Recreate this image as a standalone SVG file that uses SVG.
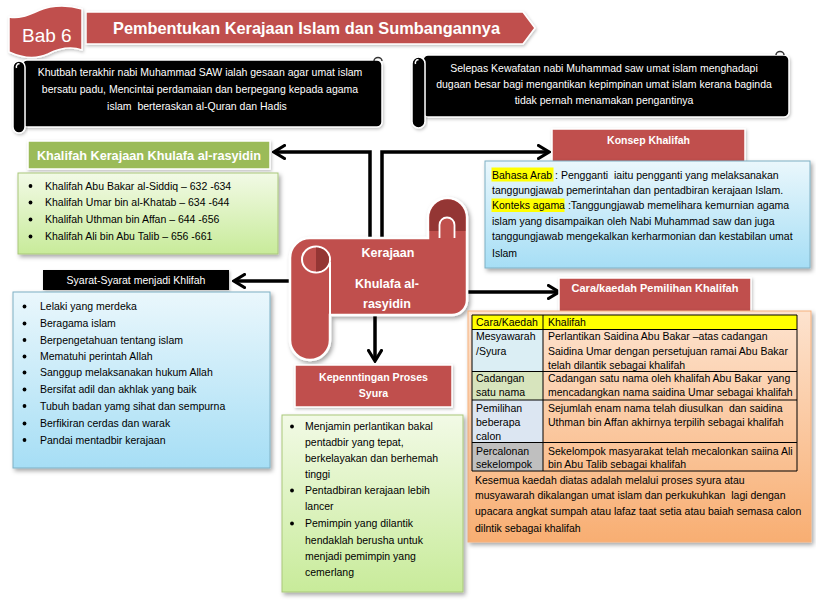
<svg xmlns="http://www.w3.org/2000/svg" width="816" height="602" viewBox="0 0 816 602">
<defs>
<style>
text{font-family:"Liberation Sans",Arial,sans-serif;font-size:10.5px;fill:#000}
.w{fill:#fff}
.b{font-weight:bold}
.m{text-anchor:middle}
.red{fill:#c0504d}
.dk{fill:#943634}
.conn{fill:none;stroke:#000;stroke-width:3.5;marker-end:url(#ah)}
.grid{stroke:#000;stroke-width:1;fill:none}
.blk{fill:#000;stroke:#fff;stroke-width:1.5}
</style>
<linearGradient id="gBlue" x1="0" y1="0" x2="0" y2="1"><stop offset="0" stop-color="#eaf7fc"/><stop offset="1" stop-color="#a6def5"/></linearGradient>
<linearGradient id="gGreen" x1="0" y1="0" x2="0" y2="1"><stop offset="0" stop-color="#f2fae6"/><stop offset="1" stop-color="#c8eb9a"/></linearGradient>
<linearGradient id="gOrange" x1="0" y1="0" x2="0" y2="1"><stop offset="0" stop-color="#fde3cf"/><stop offset="1" stop-color="#f8ae72"/></linearGradient>
<filter id="sh" x="-10%" y="-10%" width="130%" height="130%"><feDropShadow dx="2" dy="2.5" stdDeviation="2" flood-color="#000" flood-opacity="0.35"/></filter>
<filter id="sh2" x="-10%" y="-20%" width="130%" height="150%"><feDropShadow dx="1" dy="1.5" stdDeviation="1.5" flood-color="#000" flood-opacity="0.25"/></filter>
<marker id="ah" viewBox="0 0 14 16" refX="12" refY="8" markerWidth="14" markerHeight="16" markerUnits="userSpaceOnUse" orient="auto"><path d="M1.5,1.5 L12,8 L1.5,14.5" fill="none" stroke="#000" stroke-width="3.2" stroke-linecap="round"/></marker>
</defs>
<rect width="816" height="602" fill="#fff"/>

<g id="connectors">
<path class="conn" d="M370,240 L370,152 L274,152"/>
<path class="conn" d="M382,240 L382,152 L549,152"/>
<path class="conn" d="M292,281 L234,281"/>
<path class="conn" d="M465,292 L559,292"/>
<path class="conn" d="M375,313 L375,361"/>
</g>

<g id="title-banner">
<polygon points="86,12 523,12 535,28 523,44 86,44" class="red" stroke="#fff" stroke-width="1.5" filter="url(#sh2)"/>
<text x="113" y="34" class="w b" style="font-size:16.3px" textLength="387" lengthAdjust="spacingAndGlyphs">Pembentukan Kerajaan Islam dan Sumbangannya</text>
</g>

<g id="bab6-flag">
<path d="M9,17 C25,20 35,10 50,7 C62,5 72,6 82,9 L82,50 C70,46 60,48 48,54 C35,60 22,58 9,52 Z" class="red" stroke="#fff" stroke-width="1.5" filter="url(#sh2)"/>
<text x="22" y="42" class="w" style="font-size:19px">Bab 6</text>
</g>

<g id="khutbah-box">
<rect x="22" y="60" width="360" height="67" rx="5" class="blk" filter="url(#sh2)"/>
<rect x="13" y="61" width="12" height="72" rx="6" class="blk" filter="url(#sh2)"/>
<path d="M16.5,68 a2.5,3 0 0 1 3,-4" stroke="#fff" stroke-width="1.5" fill="none"/>
<path d="M374,61 a4,3.5 0 0 1 8,0" stroke="#333" stroke-width="1.5" fill="none"/>
<text x="200" y="76" class="w m">Khutbah terakhir nabi Muhammad SAW ialah gesaan agar umat islam</text>
<text x="200" y="93" class="w m">bersatu padu, Mencintai perdamaian dan berpegang kepada agama</text>
<text x="197" y="109.5" class="w m" xml:space="preserve">islam  berteraskan al-Quran dan Hadis</text>
</g>

<g id="kewafatan-box">
<rect x="423" y="55" width="366" height="62" rx="5" class="blk" filter="url(#sh2)"/>
<rect x="412" y="57" width="13" height="71" rx="6.5" class="blk" filter="url(#sh2)"/>
<path d="M415.5,64 a2.5,3 0 0 1 3,-4" stroke="#fff" stroke-width="1.5" fill="none"/>
<path d="M776,55 a4,3.5 0 0 1 8,0" stroke="#333" stroke-width="1.5" fill="none"/>
<text x="604" y="72" class="w m">Selepas Kewafatan nabi Muhammad saw umat islam menghadapi</text>
<text x="604" y="87.5" class="w m">dugaan besar bagi mengantikan kepimpinan umat islam kerana baginda</text>
<text x="604" y="103.5" class="w m">tidak pernah menamakan pengantinya</text>
</g>

<g id="khalifah-header">
<rect x="28" y="141" width="242" height="28" fill="#9bbb59" stroke="#fff" stroke-width="1.5" filter="url(#sh2)"/>
<text x="149" y="159.5" class="w b m" style="font-size:12.7px">Khalifah Kerajaan Khulafa al-rasyidin</text>
</g>

<g id="khalifah-list">
<rect x="18" y="173" width="260" height="81" fill="url(#gGreen)" stroke="#a9c77a" stroke-width="1" filter="url(#sh)"/>
<circle cx="30.5" cy="186" r="1.9"/><text x="45" y="189.5">Khalifah Abu Bakar al-Siddiq – 632 -634</text>
<circle cx="30.5" cy="202.5" r="1.9"/><text x="45" y="206">Khalifah Umar bin al-Khatab – 634 -644</text>
<circle cx="30.5" cy="219.5" r="1.9"/><text x="45" y="223">Khalifah Uthman bin Affan – 644 -656</text>
<circle cx="30.5" cy="236.5" r="1.9"/><text x="45" y="240">Khalifah Ali bin Abu Talib – 656 -661</text>
</g>

<g id="konsep-header">
<rect x="552" y="129" width="193" height="34" class="red" stroke="#fff" stroke-width="1.5" filter="url(#sh2)"/>
<text x="648.5" y="144" class="w b m">Konsep Khalifah</text>
</g>

<g id="konsep-box">
<rect x="485" y="161" width="325" height="107" fill="url(#gBlue)" stroke="#7fb0c4" stroke-width="1" filter="url(#sh)"/>
<rect x="491.5" y="167.5" width="62" height="14" fill="#ffff00"/>
<rect x="491.5" y="198.5" width="73" height="13.5" fill="#ffff00"/>
<text x="492" y="178.5" xml:space="preserve">Bahasa Arab : Pengganti  iaitu pengganti yang melaksanakan</text>
<text x="492" y="194">tanggungjawab pemerintahan dan pentadbiran kerajaan Islam.</text>
<text x="492" y="209">Konteks agama :Tanggungjawab memelihara kemurnian agama</text>
<text x="492" y="224.5">islam yang disampaikan oleh Nabi Muhammad saw dan juga</text>
<text x="492" y="240">tanggungjawab mengekalkan kerharmonian dan kestabilan umat</text>
<text x="492" y="256.5">Islam</text>
</g>

<g id="syarat-header">
<rect x="43" y="270" width="186" height="20" fill="#000" filter="url(#sh2)"/>
<text x="136" y="284" class="w m">Syarat-Syarat menjadi Khlifah</text>
</g>

<g id="syarat-list">
<rect x="13" y="292" width="257" height="176" fill="url(#gBlue)" stroke="#7fb0c4" stroke-width="1" filter="url(#sh)"/>
<circle cx="24.5" cy="306.5" r="1.9"/><text x="40" y="310">Lelaki yang merdeka</text>
<circle cx="24.5" cy="323.5" r="1.9"/><text x="40" y="327">Beragama islam</text>
<circle cx="24.5" cy="340" r="1.9"/><text x="40" y="343.5">Berpengetahuan tentang islam</text>
<circle cx="24.5" cy="356.5" r="1.9"/><text x="40" y="360">Mematuhi perintah Allah</text>
<circle cx="24.5" cy="372.5" r="1.9"/><text x="40" y="376">Sanggup melaksanakan hukum Allah</text>
<circle cx="24.5" cy="389.5" r="1.9"/><text x="40" y="393">Bersifat adil dan akhlak yang baik</text>
<circle cx="24.5" cy="406" r="1.9"/><text x="40" y="409.5">Tubuh badan yamg sihat dan sempurna</text>
<circle cx="24.5" cy="423.5" r="1.9"/><text x="40" y="427">Berfikiran cerdas dan warak</text>
<circle cx="24.5" cy="440" r="1.9"/><text x="40" y="443.5">Pandai mentadbir kerajaan</text>
</g>

<g id="kerajaan-scroll">
<path d="M290,258 A20,20 0 0 1 310,238 L428,238 L428,217.5 A19.5,19.5 0 0 1 467,217.5 L467,300 A15,15 0 0 1 452,315 L330,315 L330,340 A20,20 0 0 1 290,340 Z" class="red" stroke="#fff" stroke-width="2.5" filter="url(#sh)"/>
<path d="M429.5,217.5 A18,18 0 0 1 465.5,217.5 L465.5,231 L429.5,231 Z" class="dk"/>
<path d="M439.5,238 L439.5,225 A7.5,7.5 0 0 1 454.5,225 L454.5,238" class="red" stroke="#fff" stroke-width="1.8"/>
<path d="M330,262 L330,315" stroke="#fff" stroke-width="2" fill="none"/>
<ellipse cx="316" cy="259.5" rx="14" ry="13" class="red" stroke="#fff" stroke-width="2"/>
<path d="M316,247.5 A13,12 0 0 1 316,271.5 Z" class="dk"/>
<text x="388" y="257" class="w b m" style="font-size:12.5px">Kerajaan</text>
<text x="387" y="287.5" class="w b m" style="font-size:12.5px">Khulafa al-</text>
<text x="387" y="307.5" class="w b m" style="font-size:12.5px">rasyidin</text>
</g>

<g id="cara-header">
<rect x="559" y="278" width="192" height="36" class="red" stroke="#fff" stroke-width="1.5" filter="url(#sh2)"/>
<text x="655" y="292" class="w b m" style="font-size:11px">Cara/kaedah Pemilihan Khalifah</text>
</g>

<g id="cara-table">
<rect x="468" y="311" width="343" height="231" fill="url(#gOrange)" stroke="#f6b17e" stroke-width="1" filter="url(#sh)"/>
<rect x="472" y="315" width="325" height="14.5" fill="#ffff00"/>
<rect x="472" y="329.5" width="71" height="42" fill="#dbeef4"/>
<rect x="472" y="371.5" width="71" height="28.5" fill="#d7e4bd"/>
<rect x="472" y="400" width="71" height="42.5" fill="#dce6f2"/>
<rect x="472" y="442.5" width="71" height="28.5" fill="#bfbfbf"/>
<path class="grid" d="M472,315 H797 V471 H472 Z M543,315 V471 M472,329.5 H797 M472,371.5 H797 M472,400 H797 M472,442.5 H797"/>
<text x="476" y="326">Cara/Kaedah</text>
<text x="548" y="326">Khalifah</text>
<text x="476" y="340">Mesyawarah</text>
<text x="476" y="354.5">/Syura</text>
<text x="548" y="340">Perlantikan Saidina Abu Bakar –atas cadangan</text>
<text x="548" y="354.5">Saidina Umar dengan persetujuan ramai Abu Bakar</text>
<text x="548" y="368.5">telah dilantik sebagai khalifah</text>
<text x="476" y="382">Cadangan</text>
<text x="476" y="396">satu nama</text>
<text x="548" y="382" xml:space="preserve">Cadangan satu nama oleh khalifah Abu Bakar  yang</text>
<text x="548" y="396">mencadangkan nama saidina Umar sebagai khalifah</text>
<text x="476" y="412">Pemilihan</text>
<text x="476" y="426">beberapa</text>
<text x="476" y="440">calon</text>
<text x="548" y="412" xml:space="preserve">Sejumlah enam nama telah diusulkan  dan saidina</text>
<text x="548" y="426">Uthman bin Affan akhirnya terpilih sebagai khalifah</text>
<text x="476" y="454.5">Percalonan</text>
<text x="476" y="468">sekelompok</text>
<text x="548" y="454.5">Sekelompok masyarakat telah mecalonkan saiina Ali</text>
<text x="548" y="468">bin Abu Talib sebagai khalifah</text>
<text x="475" y="483.5">Kesemua kaedah diatas adalah melalui proses syura atau</text>
<text x="475" y="498.5" xml:space="preserve">musyawarah dikalangan umat islam dan perkukuhkan  lagi dengan</text>
<text x="475" y="514.5">upacara angkat sumpah atau lafaz taat setia atau baiah semasa calon</text>
<text x="475" y="531.5">dilntik sebagai khalifah</text>
</g>

<g id="kepentingan-header">
<rect x="295" y="365" width="157" height="42" class="red" stroke="#fff" stroke-width="1.5" filter="url(#sh2)"/>
<text x="373.5" y="380.5" class="w b m" style="font-size:10.6px">Kepenntingan Proses</text>
<text x="373.5" y="397" class="w b m" style="font-size:10.6px">Syura</text>
</g>

<g id="kepentingan-list">
<rect x="282" y="415" width="181" height="177" fill="url(#gGreen)" stroke="#a9c77a" stroke-width="1" filter="url(#sh)"/>
<circle cx="292" cy="426.5" r="1.9"/>
<text x="305" y="430">Menjamin perlantikan bakal</text>
<text x="305" y="446">pentadbir yang tepat,</text>
<text x="305" y="461.5">berkelayakan dan berhemah</text>
<text x="305" y="477.5">tinggi</text>
<circle cx="292" cy="490.5" r="1.9"/>
<text x="305" y="494">Pentadbiran kerajaan lebih</text>
<text x="305" y="510">lancer</text>
<circle cx="292" cy="523.5" r="1.9"/>
<text x="305" y="527">Pemimpin yang dilantik</text>
<text x="305" y="543.5">hendaklah berusha untuk</text>
<text x="305" y="559.5">menjadi pemimpin yang</text>
<text x="305" y="576">cemerlang</text>
</g>
</svg>
